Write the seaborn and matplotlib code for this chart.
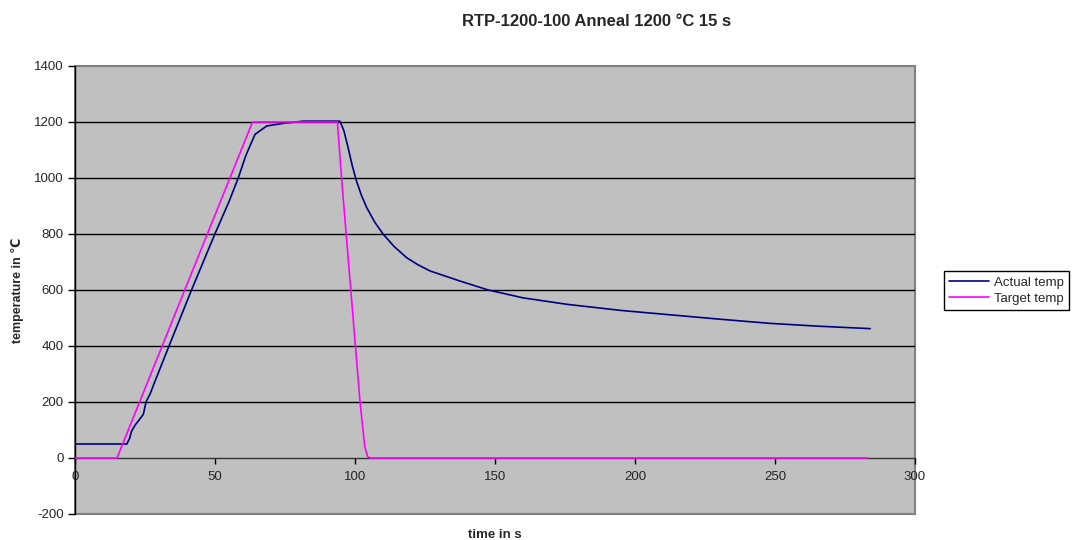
import matplotlib
matplotlib.use("Agg")
import matplotlib.pyplot as plt
import pandas as pd
import seaborn as sns

# values
actual_time = [0, 18.5, 19.5, 20.2, 21.5, 22.6, 24.4, 25.4, 26.8, 28.6, 33.7, 41.7, 50, 55.1,
               58.3, 61, 64.3, 68.5, 75, 81.5, 94.6, 96, 97.5, 99, 100.5, 102.3, 104.2, 107,
               110.1, 114, 118.5, 122.5, 126.8, 137.5, 147.6, 160, 175.6, 195, 213, 230,
               248, 265, 284]
actual_temp = [50, 50, 70, 96, 118, 132, 156, 201, 228, 275, 403, 602, 801, 918,
               1000, 1080, 1156, 1186, 1196, 1203, 1203, 1170, 1110, 1045, 990, 938, 894, 843,
               799, 755, 715, 690, 668, 632, 600, 572, 549, 527, 511, 496,
               481, 471, 462]

target_time = [0, 15, 63.4, 93.7, 95.2, 101.8, 103.5, 104.5, 105.5, 283]
target_temp = [0, 0, 1200, 1200, 1000, 200, 40, 5, 0, 0]

series_names = ["Actual temp", "Target temp"]
series_colors = {"Actual temp": "#000080", "Target temp": "#FF00FF"}
y_ticks = list(range(-200, 1401, 200))
x_ticks = list(range(0, 301, 50))

df = pd.concat([
    pd.DataFrame({"time": actual_time, "temp": actual_temp, "series": series_names[0]}),
    pd.DataFrame({"time": target_time, "temp": target_temp, "series": series_names[1]}),
])

sns.set_style("white")
plt.rcParams["font.family"] = ["Liberation Sans", "DejaVu Sans"]
plt.rcParams["axes.unicode_minus"] = False

fig = plt.figure(figsize=(10.91, 5.4), dpi=100)
ax = fig.add_axes([75 / 1091, 1 - 514 / 540, 840 / 1091, 448 / 540])
ax.set_facecolor("#C0C0C0")

sns.lineplot(data=df, x="time", y="temp", hue="series", palette=series_colors,
             estimator=None, sort=False, linewidth=1.2, ax=ax, zorder=3)

ax.set_xlim(0, 300)
ax.set_ylim(-200, 1400)
ax.set_yticks(y_ticks)
ax.set_xticks(x_ticks)

# horizontal gridlines only, not on the plot-area border (Excel style)
ax.grid(False)
for y in y_ticks[1:-1]:
    if y != 0:
        ax.axhline(y, color="black", linewidth=1, zorder=1)

# frame: gray border, black value axis, category axis crossing at 0
ax.patch.set_edgecolor("#808080")
ax.patch.set_linewidth(1.5)
for side in ["top", "right"]:
    ax.spines[side].set_visible(False)
ax.spines["left"].set_color("black")
ax.spines["left"].set_linewidth(1)
ax.spines["bottom"].set_position(("data", 0))
ax.spines["bottom"].set_color("#333333")
ax.spines["bottom"].set_linewidth(1)
ax.tick_params(axis="y", direction="out", length=5, width=1, color="black",
               labelsize=9.5, pad=3, left=True)
ax.tick_params(axis="x", direction="out", length=4, width=1, color="black",
               labelsize=9.5, pad=5, bottom=True)

ax.set_xlabel("time in s", fontsize=9.5, fontweight="bold")
ax.set_ylabel("temperature in ℃", fontsize=9, fontweight="bold")
ax.xaxis.set_label_coords(0.5, -0.034)
ax.yaxis.set_label_coords(-0.061, 0.5)

fig.text(597 / 1091, 1 - 22 / 540, "RTP-1200-100 Anneal 1200 °C 15 s",
         ha="center", va="center", fontsize=12, fontweight="bold")

leg = ax.legend(loc="upper left", bbox_to_anchor=(1.0345, 0.5424), borderaxespad=0,
                fontsize=9.5, frameon=True, fancybox=False, edgecolor="black",
                framealpha=1, handlelength=3, borderpad=0.4, labelspacing=0.3,
                handletextpad=0.4)
leg.get_frame().set_linewidth(1)

plt.savefig("out.png", dpi=100)
